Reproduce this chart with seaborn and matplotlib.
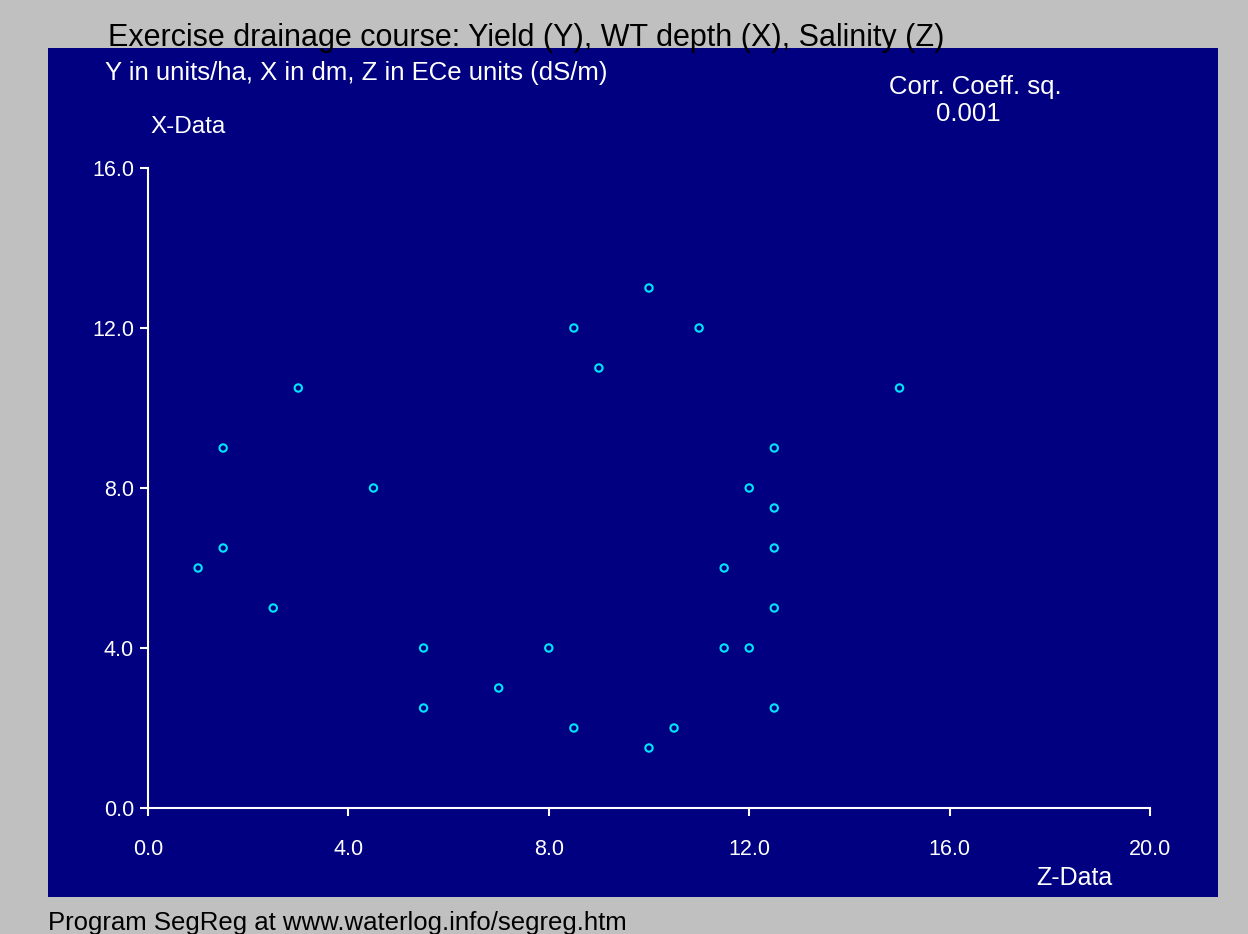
import matplotlib
matplotlib.use('Agg')
import matplotlib.pyplot as plt
import seaborn as sns
import pandas as pd
from matplotlib.patches import Rectangle
from matplotlib.ticker import FormatStrFormatter

# Data: Z (salinity) on x, X (WT depth) on y
z_data = [10.0, 8.5, 11.0, 9.0, 3.0, 15.0, 1.5, 12.5, 4.5, 12.0, 12.5, 1.5, 12.5, 1.0,
          11.5, 2.5, 12.5, 5.5, 8.0, 11.5, 12.0, 7.0, 5.5, 12.5, 8.5, 10.5, 10.0]
x_data = [13.0, 12.0, 12.0, 11.0, 10.5, 10.5, 9.0, 9.0, 8.0, 8.0, 7.5, 6.5, 6.5, 6.0,
          6.0, 5.0, 5.0, 4.0, 4.0, 4.0, 4.0, 3.0, 2.5, 2.5, 2.0, 2.0, 1.5]
x_ticks = [0.0, 4.0, 8.0, 12.0, 16.0, 20.0]
y_ticks = [0.0, 4.0, 8.0, 12.0, 16.0]
corr_sq = 0.001

df = pd.DataFrame({'Z': z_data, 'X': x_data})

navy = '#000080'
sns.set_style('white')
plt.rcParams['font.family'] = ['Liberation Sans', 'DejaVu Sans']

fig = plt.figure(figsize=(12.48, 9.34), dpi=100)
fig.patch.set_facecolor('#c0c0c0')
fig.patches.append(Rectangle((48 / 1248, 1 - 897 / 934), (1218 - 48) / 1248, (897 - 48) / 934,
                             transform=fig.transFigure, facecolor=navy, edgecolor='none', zorder=-10))

ax = fig.add_axes([148 / 1248, 1 - 808 / 934, (1150 - 148) / 1248, (808 - 168) / 934])
ax.set_facecolor(navy)

sns.scatterplot(data=df, x='Z', y='X', ax=ax, marker='o', s=28,
                facecolors='none', edgecolor='#00e5ff', linewidth=1.5, clip_on=False)

ax.set_xlim(0, 20)
ax.set_ylim(0, 16)
ax.set_xticks(x_ticks)
ax.set_yticks(y_ticks)
ax.xaxis.set_major_formatter(FormatStrFormatter('%.1f'))
ax.yaxis.set_major_formatter(FormatStrFormatter('%.1f'))
ax.set_xlabel('')
ax.set_ylabel('')

for side in ['top', 'right']:
    ax.spines[side].set_visible(False)
for side in ['left', 'bottom']:
    ax.spines[side].set_color('white')
    ax.spines[side].set_linewidth(1.5)

ax.tick_params(axis='x', colors='white', direction='out', length=6, width=1.5,
               pad=16, labelsize=15.5)
ax.tick_params(axis='y', colors='white', direction='out', length=6, width=1.5,
               pad=4, labelsize=15.5)
ax.tick_params(bottom=True, left=True)

# Texts
fig.text(108 / 1248, 1 - 46 / 934, 'Exercise drainage course: Yield (Y), WT depth (X), Salinity (Z)',
         fontsize=22, color='black', ha='left', va='baseline')
fig.text(105 / 1248, 1 - 80 / 934, 'Y in units/ha, X in dm, Z in ECe units (dS/m)',
         fontsize=18.5, color='white', ha='left', va='baseline')
fig.text(150 / 1248, 1 - 133 / 934, 'X-Data', fontsize=17.5, color='white', ha='left', va='baseline')
fig.text(975 / 1248, 1 - 94 / 934, 'Corr. Coeff. sq.', fontsize=18.5, color='white', ha='center', va='baseline')
fig.text(968 / 1248, 1 - 121 / 934, f'{corr_sq:.3f}', fontsize=18.5, color='white', ha='center', va='baseline')
fig.text(1074 / 1248, 1 - 885 / 934, 'Z-Data', fontsize=18, color='white', ha='center', va='baseline')
fig.text(48 / 1248, 1 - 930 / 934, 'Program SegReg at www.waterlog.info/segreg.htm',
         fontsize=18.5, color='black', ha='left', va='baseline')

fig.savefig('out.png', dpi=100, facecolor=fig.get_facecolor())
